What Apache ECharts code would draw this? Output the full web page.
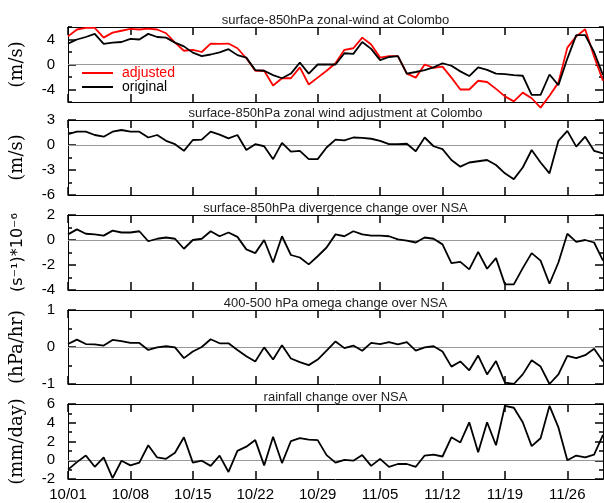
<!DOCTYPE html>
<html>
<head>
<meta charset="utf-8">
<script src="https://cdn.jsdelivr.net/npm/echarts@6/dist/echarts.min.js"></script>
<style>html,body{margin:0;padding:0;background:#fff;}#c{width:604px;height:503px;}</style>
</head>
<body>
<div id="c"></div>
<script>
// ---- categories (daily, 10/01 .. 11/30) ----
const dates = ['10/01','10/02','10/03','10/04','10/05','10/06','10/07','10/08','10/09','10/10',
'10/11','10/12','10/13','10/14','10/15','10/16','10/17','10/18','10/19','10/20',
'10/21','10/22','10/23','10/24','10/25','10/26','10/27','10/28','10/29','10/30','10/31',
'11/01','11/02','11/03','11/04','11/05','11/06','11/07','11/08','11/09','11/10',
'11/11','11/12','11/13','11/14','11/15','11/16','11/17','11/18','11/19','11/20',
'11/21','11/22','11/23','11/24','11/25','11/26','11/27','11/28','11/29','11/30'];

// ---- series values ----
const adjustedWind = [4.5,5.6,5.85,5.85,4.3,5.1,5.4,5.7,5.6,5.75,5.6,5.0,3.5,2.2,2.35,2.0,3.35,3.3,3.35,2.6,1.0,-1.0,-1.0,-3.35,-2.2,-2.2,-0.45,-3.2,-2.1,-1.0,0.2,2.35,2.6,4.3,3.2,1.1,1.35,1.35,-1.45,-2.1,0,-0.55,-0.35,-2.1,-4.0,-4.0,-2.6,-2.8,-3.9,-5.1,-5.9,-4.5,-5.4,-6.9,-5.0,-2.9,2.7,4.5,5.65,1.3,-2.6];
const originalWind = [3.35,4.0,4.4,4.9,3.3,3.5,3.6,4.1,4.0,4.9,4.4,4.3,3.5,2.9,1.9,1.35,1.6,1.95,2.45,1.5,1.1,-0.9,-1.0,-1.7,-2.2,-1.45,0.3,-1.45,0,0,0,1.8,1.7,3.6,2.5,0.7,1.2,1.35,-1.45,-1.2,-0.9,-0.45,0.2,-0.2,-1.1,-1.85,-0.45,-0.85,-1.45,-1.55,-1.7,-1.8,-4.85,-4.85,-1.6,-3.3,0.95,4.7,4.7,2.0,-1.7];
const windAdjustment = [1.3,1.6,1.6,1.2,1.0,1.6,1.8,1.6,1.6,0.9,1.2,0.5,0.1,-0.7,0.6,0.65,1.6,1.25,0.8,1.2,-0.6,0.1,-0.15,-1.7,0.25,-0.8,-0.7,-1.7,-1.7,-0.3,0.65,0.55,0.9,0.85,0.75,0.5,0.1,0.1,0.15,-0.75,0.9,-0.15,-0.5,-1.8,-2.6,-2.1,-1.95,-1.8,-2.4,-3.4,-4.1,-2.7,-0.6,-2.1,-3.4,0.5,1.7,-0.2,1.0,-0.7,-1.0];
const divergenceChange = [0.45,0.85,0.5,0.45,0.35,0.75,0.6,0.6,0.7,-0.1,0.1,0.2,0.1,-0.7,0,0.1,0.7,0.3,0.6,0.25,-0.75,-1.05,0,-1.8,0.3,-1.2,-1.4,-1.95,-1.3,-0.6,0.45,0.3,0.7,0.45,0.35,0.35,0.3,0.05,-0.05,-0.2,0.2,0.1,-0.35,-1.85,-1.75,-2.35,-0.95,-2.3,-1.45,-3.55,-3.55,-2.25,-1.05,-1.65,-3.5,-1.8,0.5,-0.15,0,-0.2,-1.65];
const omegaChange = [0.08,0.2,0.08,0.07,0.04,0.19,0.16,0.11,0.11,-0.08,-0.01,0.02,-0.01,-0.3,-0.12,0,0.21,0.1,0.1,-0.08,-0.25,-0.39,-0.01,-0.34,0.05,-0.31,-0.41,-0.49,-0.34,-0.1,0.15,-0.03,0.04,-0.1,0.11,0.08,0.13,0.07,0.13,-0.1,-0.01,0.02,-0.12,-0.53,-0.39,-0.63,-0.23,-0.74,-0.38,-0.96,-1.0,-0.74,-0.36,-0.53,-1.0,-0.74,-0.24,-0.3,-0.22,-0.05,-0.39];
const rainfallChange = [-1.0,-0.2,0.5,-0.7,0.3,-1.9,-0.05,-0.55,-0.25,1.6,0.3,0.15,0.8,2.45,-0.25,-0.05,-0.6,0.5,-1.25,1.0,1.45,2.15,-0.55,2.5,-0.3,2.05,2.35,2.2,2.15,0.55,-0.25,0.05,-0.05,0.55,-0.6,0.15,-0.7,-0.4,-0.4,-0.7,0.5,0.6,0.4,2.45,1.9,4.05,0.85,4.05,1.6,5.8,5.6,4.05,1.5,2.35,5.8,3.5,0.0,0.5,0.3,0.6,2.7];

// ---- texts & tick labels ----
const panelTitles = ['surface-850hPa zonal-wind at Colombo','surface-850hPa zonal wind adjustment at Colombo','surface-850hPa divergence change over NSA','400-500 hPa omega change over NSA','rainfall change over NSA'];
const unitNames = ['(m/s)','(m/s)','(s\u207B\u00B9)*10\u207B\u2076','(hPa/hr)','(mm/day)'];
const yMins = [-6,-6,-4,-1,-2];
const yMaxs = [6,3,2,1,6];
const majorTickValues = [[-4,0,4],[-6,-3,0,3],[-4,-2,0,2],[-1,0,1],[-2,0,2,4,6]];
const minorTickValues = [[-6,-2,2,6],[-4.5,-1.5,1.5],[-3,-1,1],[-0.5,0.5],[-1,1,3,5]];
const legendNames = ['adjusted','original'];

// ---- layout (not data) ----
const gridTops = [27,120,215,310,404];
const gridHeights = [75,75,75,74,75];
const L = 68, R = 1;
const serif = 'DejaVu Serif';
const sans = 'Liberation Sans';
const tickStyle = {color: '#000', width: 1.5};

const grids = [], xAxes = [], yAxes = [], series = [], graphics = [];
const seriesData = [[adjustedWind, originalWind], [windAdjustment], [divergenceChange], [omegaChange], [rainfallChange]];

for (let i = 0; i < 5; i++) {
  grids.push({left: L, right: R, top: gridTops[i], height: gridHeights[i], show: false});
  const last = i === 4;
  xAxes.push({type: 'category', gridIndex: i, data: dates, boundaryGap: false, position: 'bottom',
    axisLine: {show: true, onZero: false, lineStyle: {color: '#000', width: 1}}, splitLine: {show: false},
    axisTick: {show: true, inside: true, length: 8, interval: 6, lineStyle: tickStyle},
    axisLabel: {show: last, interval: 6, margin: 8, color: '#000', fontSize: 15, fontFamily: sans}});
  xAxes.push({type: 'category', gridIndex: i, data: dates, boundaryGap: false, position: 'top',
    axisLine: {show: true, onZero: false, lineStyle: {color: '#000', width: 1}}, splitLine: {show: false},
    axisTick: {show: true, inside: true, length: 8, interval: 6, lineStyle: tickStyle},
    axisLabel: {show: false}});
  const isSans = i === 2;
  const mkBase = () => ({type: 'value', gridIndex: i, min: yMins[i], max: yMaxs[i], splitLine: {show: false},
    axisLine: {show: true, onZero: false, lineStyle: {color: '#000', width: 1}}});
  yAxes.push(Object.assign(mkBase(), {position: 'left',
    name: unitNames[i], nameLocation: 'middle', nameGap: 42, nameRotate: 90,
    nameTextStyle: {fontFamily: isSans ? 'DejaVu Sans' : serif, fontSize: isSans ? 16 : 18, color: '#000'},
    axisTick: {show: true, inside: true, length: 8, customValues: majorTickValues[i], lineStyle: tickStyle},
    axisLabel: {show: true, customValues: majorTickValues[i], margin: 13, color: '#000', fontSize: 15, fontFamily: sans}}));
  yAxes.push(Object.assign(mkBase(), {position: 'left',
    axisTick: {show: true, inside: true, length: 4, customValues: minorTickValues[i], lineStyle: tickStyle},
    axisLabel: {show: false, customValues: minorTickValues[i]}}));
  yAxes.push(Object.assign(mkBase(), {position: 'right',
    axisTick: {show: true, inside: true, length: 8, customValues: majorTickValues[i], lineStyle: tickStyle},
    axisLabel: {show: false, customValues: majorTickValues[i]}}));
  yAxes.push(Object.assign(mkBase(), {position: 'right',
    axisTick: {show: true, inside: true, length: 4, customValues: minorTickValues[i], lineStyle: tickStyle},
    axisLabel: {show: false, customValues: minorTickValues[i]}}));

  seriesData[i].forEach((d, k) => {
    const isRed = i === 0 && k === 0;
    const s = {type: 'line', xAxisIndex: 2 * i, yAxisIndex: 4 * i, data: d, symbol: 'none', showSymbol: false,
      clip: false, animation: false, silent: true,
      lineStyle: {color: isRed ? '#ff0000' : '#000', width: 1.8},
      itemStyle: {color: isRed ? '#ff0000' : '#000'}, z: 3 + k};
    if (i === 0) s.name = legendNames[k];
    if (k === 0) s.markLine = {silent: true, symbol: ['none', 'none'], animation: false, label: {show: false},
      lineStyle: {color: '#999', width: 1, type: 'solid'}, data: [{yAxis: 0}], z: 1};
    series.push(s);
  });

  graphics.push({type: 'text', x: L + (604 - L - R) / 2, y: gridTops[i] - 7, silent: true,
    style: {text: panelTitles[i], align: 'center', verticalAlign: 'middle', fill: '#222', font: '13px "Liberation Sans"'}});
}

const chart = echarts.init(document.getElementById('c'), null, {renderer: 'canvas'});
chart.setOption({
  animation: false,
  backgroundColor: '#fff',
  grid: grids, xAxis: xAxes, yAxis: yAxes, series: series, graphic: graphics,
  legend: {show: true, orient: 'vertical', left: 82, top: 66, icon: 'rect', itemWidth: 31, itemHeight: 2, itemGap: 0, padding: 0,
    data: [{name: legendNames[0], textStyle: {color: '#ff0000'}}, {name: legendNames[1], textStyle: {color: '#000'}}],
    textStyle: {fontSize: 14, fontFamily: sans, lineHeight: 13.5, padding: [0, 0, 0, 4]}}
});
</script>
</body>
</html>
